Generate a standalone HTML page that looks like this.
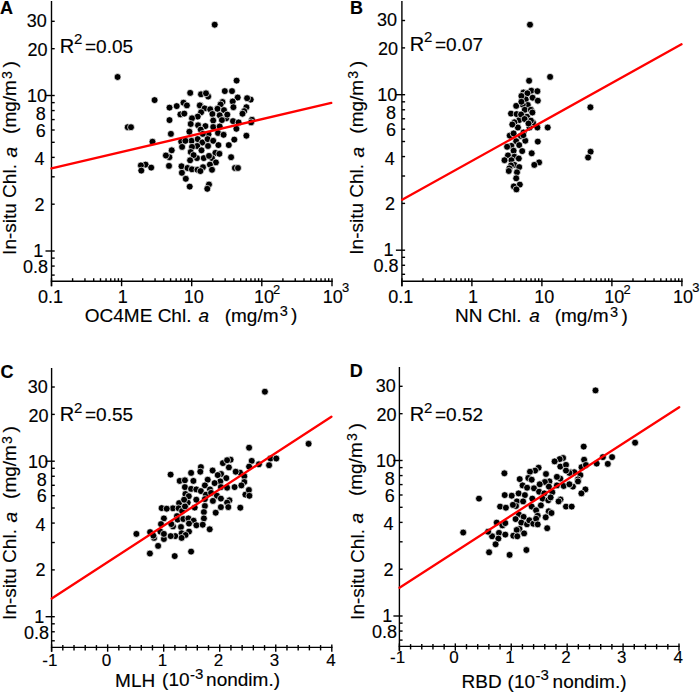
<!DOCTYPE html>
<html><head><meta charset="utf-8"><style>html,body{margin:0;padding:0;background:#fff}svg{display:block}</style></head><body>
<svg width="700" height="694" viewBox="0 0 700 694">
<rect width="700" height="694" fill="#fff"/>
<g fill="#000" stroke="#000" stroke-width="0.15" font-family="'Liberation Sans', sans-serif">
<text x="-0.10" y="13.60" font-size="18" font-weight="bold">A</text>
<text x="26.80" y="26.80" font-size="18">30</text>
<text x="27.60" y="55.90" font-size="18">20</text>
<text x="27.00" y="102.30" font-size="18">10</text>
<text x="35.80" y="119.80" font-size="18">8</text>
<text x="35.80" y="136.60" font-size="18">6</text>
<text x="34.40" y="165.40" font-size="18">4</text>
<text x="34.60" y="210.50" font-size="18">2</text>
<text x="33.20" y="256.90" font-size="18">1</text>
<text x="23.10" y="272.80" font-size="18">0.8</text>
<text x="349.90" y="13.50" font-size="18" font-weight="bold">B</text>
<text x="377.10" y="25.90" font-size="18">30</text>
<text x="377.90" y="55.00" font-size="18">20</text>
<text x="377.30" y="101.40" font-size="18">10</text>
<text x="386.10" y="118.90" font-size="18">8</text>
<text x="386.10" y="135.70" font-size="18">6</text>
<text x="384.70" y="164.50" font-size="18">4</text>
<text x="384.90" y="209.60" font-size="18">2</text>
<text x="383.50" y="256.00" font-size="18">1</text>
<text x="373.40" y="271.90" font-size="18">0.8</text>
<text x="0.40" y="377.50" font-size="18" font-weight="bold">C</text>
<text x="27.80" y="392.60" font-size="18">30</text>
<text x="28.60" y="421.70" font-size="18">20</text>
<text x="28.00" y="468.10" font-size="18">10</text>
<text x="36.80" y="485.60" font-size="18">8</text>
<text x="36.80" y="502.40" font-size="18">6</text>
<text x="35.40" y="531.20" font-size="18">4</text>
<text x="35.60" y="576.30" font-size="18">2</text>
<text x="34.20" y="622.70" font-size="18">1</text>
<text x="24.10" y="638.60" font-size="18">0.8</text>
<text x="349.70" y="377.10" font-size="18" font-weight="bold">D</text>
<text x="375.80" y="391.80" font-size="18">30</text>
<text x="376.60" y="420.90" font-size="18">20</text>
<text x="376.00" y="467.30" font-size="18">10</text>
<text x="384.80" y="484.80" font-size="18">8</text>
<text x="384.80" y="501.60" font-size="18">6</text>
<text x="383.40" y="530.40" font-size="18">4</text>
<text x="383.60" y="575.50" font-size="18">2</text>
<text x="382.20" y="621.90" font-size="18">1</text>
<text x="372.10" y="637.80" font-size="18">0.8</text>
<text x="59.70" y="52.90" font-size="20">R</text>
<text x="73.90" y="44.00" font-size="15">2</text>
<text x="85.00" y="52.90" font-size="19">=0.05</text>
<text x="409.70" y="51.10" font-size="20">R</text>
<text x="423.90" y="42.20" font-size="15">2</text>
<text x="435.00" y="51.10" font-size="19">=0.07</text>
<text x="59.70" y="421.40" font-size="20">R</text>
<text x="73.90" y="412.50" font-size="15">2</text>
<text x="85.00" y="421.40" font-size="19">=0.55</text>
<text x="409.70" y="421.40" font-size="20">R</text>
<text x="423.90" y="412.50" font-size="15">2</text>
<text x="435.00" y="421.40" font-size="19">=0.52</text>
<text x="0" y="0" font-size="19" transform="translate(16.40,254.90) rotate(-90)">In-situ Chl.</text>
<text x="0" y="0" font-size="19" font-style="italic" transform="translate(17.30,157.60) rotate(-90)">a</text>
<text x="0" y="0" font-size="19" transform="translate(16.40,133.90) rotate(-90)">(mg/m</text>
<text x="0" y="0" font-size="14" transform="translate(11.90,78.90) rotate(-90)">3</text>
<text x="0" y="0" font-size="19" transform="translate(16.40,67.40) rotate(-90)">)</text>
<text x="0" y="0" font-size="19" transform="translate(362.70,254.70) rotate(-90)">In-situ Chl.</text>
<text x="0" y="0" font-size="19" font-style="italic" transform="translate(363.60,157.40) rotate(-90)">a</text>
<text x="0" y="0" font-size="19" transform="translate(362.70,133.70) rotate(-90)">(mg/m</text>
<text x="0" y="0" font-size="14" transform="translate(358.20,78.70) rotate(-90)">3</text>
<text x="0" y="0" font-size="19" transform="translate(362.70,67.20) rotate(-90)">)</text>
<text x="0" y="0" font-size="19" transform="translate(16.40,619.90) rotate(-90)">In-situ Chl.</text>
<text x="0" y="0" font-size="19" font-style="italic" transform="translate(17.30,522.60) rotate(-90)">a</text>
<text x="0" y="0" font-size="19" transform="translate(16.40,498.90) rotate(-90)">(mg/m</text>
<text x="0" y="0" font-size="14" transform="translate(11.90,443.90) rotate(-90)">3</text>
<text x="0" y="0" font-size="19" transform="translate(16.40,432.40) rotate(-90)">)</text>
<text x="0" y="0" font-size="19" transform="translate(363.60,619.90) rotate(-90)">In-situ Chl.</text>
<text x="0" y="0" font-size="19" font-style="italic" transform="translate(363.30,523.40) rotate(-90)">a</text>
<text x="0" y="0" font-size="19" transform="translate(361.80,496.10) rotate(-90)">(mg/m</text>
<text x="0" y="0" font-size="14" transform="translate(357.30,441.10) rotate(-90)">3</text>
<text x="0" y="0" font-size="19" transform="translate(361.80,429.60) rotate(-90)">)</text>
<text x="37.90" y="302.90" font-size="18">0.1</text>
<text x="117.70" y="302.90" font-size="18">1</text>
<text x="183.80" y="302.90" font-size="18">10</text>
<text x="253.90" y="302.90" font-size="18">10</text>
<text x="273.00" y="294.00" font-size="13">2</text>
<text x="322.70" y="302.90" font-size="18">10</text>
<text x="341.90" y="291.70" font-size="13">3</text>
<text x="388.30" y="302.90" font-size="18">0.1</text>
<text x="468.10" y="302.90" font-size="18">1</text>
<text x="534.20" y="302.90" font-size="18">10</text>
<text x="604.30" y="302.90" font-size="18">10</text>
<text x="623.40" y="294.00" font-size="13">2</text>
<text x="673.10" y="302.90" font-size="18">10</text>
<text x="692.30" y="291.70" font-size="13">3</text>
<text x="84.80" y="321.60" font-size="19">OC4ME Chl.</text>
<text x="198.60" y="321.60" font-size="19" font-style="italic">a</text>
<text x="224.70" y="321.70" font-size="19">(mg/m</text>
<text x="279.80" y="315.90" font-size="14.5">3</text>
<text x="291.10" y="320.50" font-size="19">)</text>
<text x="455.10" y="322.10" font-size="19">NN Chl.</text>
<text x="529.30" y="322.10" font-size="19" font-style="italic">a</text>
<text x="554.70" y="322.30" font-size="19">(mg/m</text>
<text x="610.00" y="317.00" font-size="14.5">3</text>
<text x="621.50" y="321.60" font-size="19">)</text>
<text x="42.30" y="666.40" font-size="17">-1</text>
<text x="101.64" y="666.40" font-size="17">0</text>
<text x="157.68" y="666.40" font-size="17">1</text>
<text x="213.72" y="666.40" font-size="17">2</text>
<text x="269.76" y="666.40" font-size="17">3</text>
<text x="326.30" y="666.40" font-size="17">4</text>
<text x="390.10" y="662.90" font-size="17">-1</text>
<text x="449.32" y="662.90" font-size="17">0</text>
<text x="505.24" y="662.90" font-size="17">1</text>
<text x="561.16" y="662.90" font-size="17">2</text>
<text x="617.08" y="662.90" font-size="17">3</text>
<text x="673.50" y="662.90" font-size="17">4</text>
<text x="115.10" y="687.10" font-size="19">MLH</text>
<text x="162.10" y="686.40" font-size="19">(10</text>
<text x="190.00" y="680.30" font-size="15">-</text>
<text x="195.10" y="679.10" font-size="15">3</text>
<text x="206.10" y="686.40" font-size="19">nondim.)</text>
<text x="461.60" y="687.90" font-size="19">RBD</text>
<text x="507.60" y="687.50" font-size="19">(10</text>
<text x="535.50" y="681.40" font-size="15">-</text>
<text x="540.60" y="680.20" font-size="15">3</text>
<text x="552.60" y="687.50" font-size="19">nondim.)</text>
</g>
<g>
<line x1="51.50" y1="1.00" x2="51.50" y2="286.20" stroke="#000" stroke-width="1.4"/>
<line x1="50.80" y1="281.20" x2="332.70" y2="281.20" stroke="#000" stroke-width="1.4"/>
<line x1="51.50" y1="275.09" x2="54.70" y2="275.09" stroke="#000" stroke-width="1.4"/>
<line x1="51.50" y1="266.07" x2="54.70" y2="266.07" stroke="#000" stroke-width="1.4"/>
<line x1="51.50" y1="258.12" x2="54.70" y2="258.12" stroke="#000" stroke-width="1.4"/>
<line x1="45.50" y1="251.00" x2="54.70" y2="251.00" stroke="#000" stroke-width="1.4"/>
<line x1="51.50" y1="204.19" x2="54.70" y2="204.19" stroke="#000" stroke-width="1.4"/>
<line x1="51.50" y1="176.81" x2="54.70" y2="176.81" stroke="#000" stroke-width="1.4"/>
<line x1="51.50" y1="157.38" x2="54.70" y2="157.38" stroke="#000" stroke-width="1.4"/>
<line x1="51.50" y1="142.31" x2="54.70" y2="142.31" stroke="#000" stroke-width="1.4"/>
<line x1="51.50" y1="130.00" x2="54.70" y2="130.00" stroke="#000" stroke-width="1.4"/>
<line x1="51.50" y1="119.59" x2="54.70" y2="119.59" stroke="#000" stroke-width="1.4"/>
<line x1="51.50" y1="110.57" x2="54.70" y2="110.57" stroke="#000" stroke-width="1.4"/>
<line x1="51.50" y1="102.62" x2="54.70" y2="102.62" stroke="#000" stroke-width="1.4"/>
<line x1="45.50" y1="95.50" x2="54.70" y2="95.50" stroke="#000" stroke-width="1.4"/>
<line x1="51.50" y1="48.69" x2="54.70" y2="48.69" stroke="#000" stroke-width="1.4"/>
<line x1="51.50" y1="21.31" x2="54.70" y2="21.31" stroke="#000" stroke-width="1.4"/>
<line x1="51.50" y1="278.20" x2="51.50" y2="286.20" stroke="#000" stroke-width="1.4"/>
<line x1="72.60" y1="278.20" x2="72.60" y2="281.20" stroke="#000" stroke-width="1.4"/>
<line x1="84.95" y1="278.20" x2="84.95" y2="281.20" stroke="#000" stroke-width="1.4"/>
<line x1="93.70" y1="278.20" x2="93.70" y2="281.20" stroke="#000" stroke-width="1.4"/>
<line x1="100.50" y1="278.20" x2="100.50" y2="281.20" stroke="#000" stroke-width="1.4"/>
<line x1="106.05" y1="278.20" x2="106.05" y2="281.20" stroke="#000" stroke-width="1.4"/>
<line x1="110.74" y1="278.20" x2="110.74" y2="281.20" stroke="#000" stroke-width="1.4"/>
<line x1="114.81" y1="278.20" x2="114.81" y2="281.20" stroke="#000" stroke-width="1.4"/>
<line x1="118.39" y1="278.20" x2="118.39" y2="281.20" stroke="#000" stroke-width="1.4"/>
<line x1="121.60" y1="278.20" x2="121.60" y2="286.20" stroke="#000" stroke-width="1.4"/>
<line x1="142.70" y1="278.20" x2="142.70" y2="281.20" stroke="#000" stroke-width="1.4"/>
<line x1="155.05" y1="278.20" x2="155.05" y2="281.20" stroke="#000" stroke-width="1.4"/>
<line x1="163.80" y1="278.20" x2="163.80" y2="281.20" stroke="#000" stroke-width="1.4"/>
<line x1="170.60" y1="278.20" x2="170.60" y2="281.20" stroke="#000" stroke-width="1.4"/>
<line x1="176.15" y1="278.20" x2="176.15" y2="281.20" stroke="#000" stroke-width="1.4"/>
<line x1="180.84" y1="278.20" x2="180.84" y2="281.20" stroke="#000" stroke-width="1.4"/>
<line x1="184.91" y1="278.20" x2="184.91" y2="281.20" stroke="#000" stroke-width="1.4"/>
<line x1="188.49" y1="278.20" x2="188.49" y2="281.20" stroke="#000" stroke-width="1.4"/>
<line x1="191.70" y1="278.20" x2="191.70" y2="286.20" stroke="#000" stroke-width="1.4"/>
<line x1="212.80" y1="278.20" x2="212.80" y2="281.20" stroke="#000" stroke-width="1.4"/>
<line x1="225.15" y1="278.20" x2="225.15" y2="281.20" stroke="#000" stroke-width="1.4"/>
<line x1="233.90" y1="278.20" x2="233.90" y2="281.20" stroke="#000" stroke-width="1.4"/>
<line x1="240.70" y1="278.20" x2="240.70" y2="281.20" stroke="#000" stroke-width="1.4"/>
<line x1="246.25" y1="278.20" x2="246.25" y2="281.20" stroke="#000" stroke-width="1.4"/>
<line x1="250.94" y1="278.20" x2="250.94" y2="281.20" stroke="#000" stroke-width="1.4"/>
<line x1="255.01" y1="278.20" x2="255.01" y2="281.20" stroke="#000" stroke-width="1.4"/>
<line x1="258.59" y1="278.20" x2="258.59" y2="281.20" stroke="#000" stroke-width="1.4"/>
<line x1="261.80" y1="278.20" x2="261.80" y2="286.20" stroke="#000" stroke-width="1.4"/>
<line x1="282.90" y1="278.20" x2="282.90" y2="281.20" stroke="#000" stroke-width="1.4"/>
<line x1="295.25" y1="278.20" x2="295.25" y2="281.20" stroke="#000" stroke-width="1.4"/>
<line x1="304.00" y1="278.20" x2="304.00" y2="281.20" stroke="#000" stroke-width="1.4"/>
<line x1="310.80" y1="278.20" x2="310.80" y2="281.20" stroke="#000" stroke-width="1.4"/>
<line x1="316.35" y1="278.20" x2="316.35" y2="281.20" stroke="#000" stroke-width="1.4"/>
<line x1="321.04" y1="278.20" x2="321.04" y2="281.20" stroke="#000" stroke-width="1.4"/>
<line x1="325.11" y1="278.20" x2="325.11" y2="281.20" stroke="#000" stroke-width="1.4"/>
<line x1="328.69" y1="278.20" x2="328.69" y2="281.20" stroke="#000" stroke-width="1.4"/>
<line x1="332.00" y1="278.20" x2="332.00" y2="286.20" stroke="#000" stroke-width="1.4"/>
<line x1="401.90" y1="1.00" x2="401.90" y2="286.20" stroke="#000" stroke-width="1.4"/>
<line x1="401.20" y1="281.20" x2="682.60" y2="281.20" stroke="#000" stroke-width="1.4"/>
<line x1="401.90" y1="274.29" x2="405.10" y2="274.29" stroke="#000" stroke-width="1.4"/>
<line x1="401.90" y1="265.27" x2="405.10" y2="265.27" stroke="#000" stroke-width="1.4"/>
<line x1="401.90" y1="257.32" x2="405.10" y2="257.32" stroke="#000" stroke-width="1.4"/>
<line x1="395.90" y1="250.20" x2="405.10" y2="250.20" stroke="#000" stroke-width="1.4"/>
<line x1="401.90" y1="203.39" x2="405.10" y2="203.39" stroke="#000" stroke-width="1.4"/>
<line x1="401.90" y1="176.01" x2="405.10" y2="176.01" stroke="#000" stroke-width="1.4"/>
<line x1="401.90" y1="156.58" x2="405.10" y2="156.58" stroke="#000" stroke-width="1.4"/>
<line x1="401.90" y1="141.51" x2="405.10" y2="141.51" stroke="#000" stroke-width="1.4"/>
<line x1="401.90" y1="129.20" x2="405.10" y2="129.20" stroke="#000" stroke-width="1.4"/>
<line x1="401.90" y1="118.79" x2="405.10" y2="118.79" stroke="#000" stroke-width="1.4"/>
<line x1="401.90" y1="109.77" x2="405.10" y2="109.77" stroke="#000" stroke-width="1.4"/>
<line x1="401.90" y1="101.82" x2="405.10" y2="101.82" stroke="#000" stroke-width="1.4"/>
<line x1="395.90" y1="94.70" x2="405.10" y2="94.70" stroke="#000" stroke-width="1.4"/>
<line x1="401.90" y1="47.89" x2="405.10" y2="47.89" stroke="#000" stroke-width="1.4"/>
<line x1="401.90" y1="20.51" x2="405.10" y2="20.51" stroke="#000" stroke-width="1.4"/>
<line x1="401.90" y1="278.20" x2="401.90" y2="286.20" stroke="#000" stroke-width="1.4"/>
<line x1="422.97" y1="278.20" x2="422.97" y2="281.20" stroke="#000" stroke-width="1.4"/>
<line x1="435.30" y1="278.20" x2="435.30" y2="281.20" stroke="#000" stroke-width="1.4"/>
<line x1="444.04" y1="278.20" x2="444.04" y2="281.20" stroke="#000" stroke-width="1.4"/>
<line x1="450.83" y1="278.20" x2="450.83" y2="281.20" stroke="#000" stroke-width="1.4"/>
<line x1="456.37" y1="278.20" x2="456.37" y2="281.20" stroke="#000" stroke-width="1.4"/>
<line x1="461.06" y1="278.20" x2="461.06" y2="281.20" stroke="#000" stroke-width="1.4"/>
<line x1="465.12" y1="278.20" x2="465.12" y2="281.20" stroke="#000" stroke-width="1.4"/>
<line x1="468.70" y1="278.20" x2="468.70" y2="281.20" stroke="#000" stroke-width="1.4"/>
<line x1="471.90" y1="278.20" x2="471.90" y2="286.20" stroke="#000" stroke-width="1.4"/>
<line x1="492.97" y1="278.20" x2="492.97" y2="281.20" stroke="#000" stroke-width="1.4"/>
<line x1="505.30" y1="278.20" x2="505.30" y2="281.20" stroke="#000" stroke-width="1.4"/>
<line x1="514.04" y1="278.20" x2="514.04" y2="281.20" stroke="#000" stroke-width="1.4"/>
<line x1="520.83" y1="278.20" x2="520.83" y2="281.20" stroke="#000" stroke-width="1.4"/>
<line x1="526.37" y1="278.20" x2="526.37" y2="281.20" stroke="#000" stroke-width="1.4"/>
<line x1="531.06" y1="278.20" x2="531.06" y2="281.20" stroke="#000" stroke-width="1.4"/>
<line x1="535.12" y1="278.20" x2="535.12" y2="281.20" stroke="#000" stroke-width="1.4"/>
<line x1="538.70" y1="278.20" x2="538.70" y2="281.20" stroke="#000" stroke-width="1.4"/>
<line x1="541.90" y1="278.20" x2="541.90" y2="286.20" stroke="#000" stroke-width="1.4"/>
<line x1="562.97" y1="278.20" x2="562.97" y2="281.20" stroke="#000" stroke-width="1.4"/>
<line x1="575.30" y1="278.20" x2="575.30" y2="281.20" stroke="#000" stroke-width="1.4"/>
<line x1="584.04" y1="278.20" x2="584.04" y2="281.20" stroke="#000" stroke-width="1.4"/>
<line x1="590.83" y1="278.20" x2="590.83" y2="281.20" stroke="#000" stroke-width="1.4"/>
<line x1="596.37" y1="278.20" x2="596.37" y2="281.20" stroke="#000" stroke-width="1.4"/>
<line x1="601.06" y1="278.20" x2="601.06" y2="281.20" stroke="#000" stroke-width="1.4"/>
<line x1="605.12" y1="278.20" x2="605.12" y2="281.20" stroke="#000" stroke-width="1.4"/>
<line x1="608.70" y1="278.20" x2="608.70" y2="281.20" stroke="#000" stroke-width="1.4"/>
<line x1="611.90" y1="278.20" x2="611.90" y2="286.20" stroke="#000" stroke-width="1.4"/>
<line x1="632.97" y1="278.20" x2="632.97" y2="281.20" stroke="#000" stroke-width="1.4"/>
<line x1="645.30" y1="278.20" x2="645.30" y2="281.20" stroke="#000" stroke-width="1.4"/>
<line x1="654.04" y1="278.20" x2="654.04" y2="281.20" stroke="#000" stroke-width="1.4"/>
<line x1="660.83" y1="278.20" x2="660.83" y2="281.20" stroke="#000" stroke-width="1.4"/>
<line x1="666.37" y1="278.20" x2="666.37" y2="281.20" stroke="#000" stroke-width="1.4"/>
<line x1="671.06" y1="278.20" x2="671.06" y2="281.20" stroke="#000" stroke-width="1.4"/>
<line x1="675.12" y1="278.20" x2="675.12" y2="281.20" stroke="#000" stroke-width="1.4"/>
<line x1="678.70" y1="278.20" x2="678.70" y2="281.20" stroke="#000" stroke-width="1.4"/>
<line x1="681.90" y1="278.20" x2="681.90" y2="286.20" stroke="#000" stroke-width="1.4"/>
<line x1="51.60" y1="368.00" x2="51.60" y2="651.70" stroke="#000" stroke-width="1.4"/>
<line x1="50.90" y1="647.40" x2="332.50" y2="647.40" stroke="#000" stroke-width="1.4"/>
<line x1="51.60" y1="640.79" x2="54.80" y2="640.79" stroke="#000" stroke-width="1.4"/>
<line x1="51.60" y1="631.77" x2="54.80" y2="631.77" stroke="#000" stroke-width="1.4"/>
<line x1="51.60" y1="623.82" x2="54.80" y2="623.82" stroke="#000" stroke-width="1.4"/>
<line x1="45.60" y1="616.70" x2="54.80" y2="616.70" stroke="#000" stroke-width="1.4"/>
<line x1="51.60" y1="569.89" x2="54.80" y2="569.89" stroke="#000" stroke-width="1.4"/>
<line x1="51.60" y1="542.51" x2="54.80" y2="542.51" stroke="#000" stroke-width="1.4"/>
<line x1="51.60" y1="523.08" x2="54.80" y2="523.08" stroke="#000" stroke-width="1.4"/>
<line x1="51.60" y1="508.01" x2="54.80" y2="508.01" stroke="#000" stroke-width="1.4"/>
<line x1="51.60" y1="495.70" x2="54.80" y2="495.70" stroke="#000" stroke-width="1.4"/>
<line x1="51.60" y1="485.29" x2="54.80" y2="485.29" stroke="#000" stroke-width="1.4"/>
<line x1="51.60" y1="476.27" x2="54.80" y2="476.27" stroke="#000" stroke-width="1.4"/>
<line x1="51.60" y1="468.32" x2="54.80" y2="468.32" stroke="#000" stroke-width="1.4"/>
<line x1="45.60" y1="461.20" x2="54.80" y2="461.20" stroke="#000" stroke-width="1.4"/>
<line x1="51.60" y1="414.39" x2="54.80" y2="414.39" stroke="#000" stroke-width="1.4"/>
<line x1="51.60" y1="387.01" x2="54.80" y2="387.01" stroke="#000" stroke-width="1.4"/>
<line x1="51.60" y1="644.40" x2="51.60" y2="651.70" stroke="#000" stroke-width="1.4"/>
<line x1="62.81" y1="645.10" x2="62.81" y2="650.40" stroke="#000" stroke-width="1.4"/>
<line x1="74.02" y1="645.10" x2="74.02" y2="650.40" stroke="#000" stroke-width="1.4"/>
<line x1="85.22" y1="645.10" x2="85.22" y2="650.40" stroke="#000" stroke-width="1.4"/>
<line x1="96.43" y1="645.10" x2="96.43" y2="650.40" stroke="#000" stroke-width="1.4"/>
<line x1="107.64" y1="644.40" x2="107.64" y2="651.70" stroke="#000" stroke-width="1.4"/>
<line x1="118.85" y1="645.10" x2="118.85" y2="650.40" stroke="#000" stroke-width="1.4"/>
<line x1="130.06" y1="645.10" x2="130.06" y2="650.40" stroke="#000" stroke-width="1.4"/>
<line x1="141.26" y1="645.10" x2="141.26" y2="650.40" stroke="#000" stroke-width="1.4"/>
<line x1="152.47" y1="645.10" x2="152.47" y2="650.40" stroke="#000" stroke-width="1.4"/>
<line x1="163.68" y1="644.40" x2="163.68" y2="651.70" stroke="#000" stroke-width="1.4"/>
<line x1="174.89" y1="645.10" x2="174.89" y2="650.40" stroke="#000" stroke-width="1.4"/>
<line x1="186.10" y1="645.10" x2="186.10" y2="650.40" stroke="#000" stroke-width="1.4"/>
<line x1="197.30" y1="645.10" x2="197.30" y2="650.40" stroke="#000" stroke-width="1.4"/>
<line x1="208.51" y1="645.10" x2="208.51" y2="650.40" stroke="#000" stroke-width="1.4"/>
<line x1="219.72" y1="644.40" x2="219.72" y2="651.70" stroke="#000" stroke-width="1.4"/>
<line x1="230.93" y1="645.10" x2="230.93" y2="650.40" stroke="#000" stroke-width="1.4"/>
<line x1="242.14" y1="645.10" x2="242.14" y2="650.40" stroke="#000" stroke-width="1.4"/>
<line x1="253.34" y1="645.10" x2="253.34" y2="650.40" stroke="#000" stroke-width="1.4"/>
<line x1="264.55" y1="645.10" x2="264.55" y2="650.40" stroke="#000" stroke-width="1.4"/>
<line x1="275.76" y1="644.40" x2="275.76" y2="651.70" stroke="#000" stroke-width="1.4"/>
<line x1="286.97" y1="645.10" x2="286.97" y2="650.40" stroke="#000" stroke-width="1.4"/>
<line x1="298.18" y1="645.10" x2="298.18" y2="650.40" stroke="#000" stroke-width="1.4"/>
<line x1="309.38" y1="645.10" x2="309.38" y2="650.40" stroke="#000" stroke-width="1.4"/>
<line x1="320.59" y1="645.10" x2="320.59" y2="650.40" stroke="#000" stroke-width="1.4"/>
<line x1="331.80" y1="644.40" x2="331.80" y2="651.70" stroke="#000" stroke-width="1.4"/>
<line x1="399.40" y1="366.90" x2="399.40" y2="650.70" stroke="#000" stroke-width="1.4"/>
<line x1="398.70" y1="646.40" x2="679.70" y2="646.40" stroke="#000" stroke-width="1.4"/>
<line x1="399.40" y1="640.09" x2="402.60" y2="640.09" stroke="#000" stroke-width="1.4"/>
<line x1="399.40" y1="631.07" x2="402.60" y2="631.07" stroke="#000" stroke-width="1.4"/>
<line x1="399.40" y1="623.12" x2="402.60" y2="623.12" stroke="#000" stroke-width="1.4"/>
<line x1="393.40" y1="616.00" x2="402.60" y2="616.00" stroke="#000" stroke-width="1.4"/>
<line x1="399.40" y1="569.19" x2="402.60" y2="569.19" stroke="#000" stroke-width="1.4"/>
<line x1="399.40" y1="541.81" x2="402.60" y2="541.81" stroke="#000" stroke-width="1.4"/>
<line x1="399.40" y1="522.38" x2="402.60" y2="522.38" stroke="#000" stroke-width="1.4"/>
<line x1="399.40" y1="507.31" x2="402.60" y2="507.31" stroke="#000" stroke-width="1.4"/>
<line x1="399.40" y1="495.00" x2="402.60" y2="495.00" stroke="#000" stroke-width="1.4"/>
<line x1="399.40" y1="484.59" x2="402.60" y2="484.59" stroke="#000" stroke-width="1.4"/>
<line x1="399.40" y1="475.57" x2="402.60" y2="475.57" stroke="#000" stroke-width="1.4"/>
<line x1="399.40" y1="467.62" x2="402.60" y2="467.62" stroke="#000" stroke-width="1.4"/>
<line x1="393.40" y1="460.50" x2="402.60" y2="460.50" stroke="#000" stroke-width="1.4"/>
<line x1="399.40" y1="413.69" x2="402.60" y2="413.69" stroke="#000" stroke-width="1.4"/>
<line x1="399.40" y1="386.31" x2="402.60" y2="386.31" stroke="#000" stroke-width="1.4"/>
<line x1="399.40" y1="643.40" x2="399.40" y2="650.70" stroke="#000" stroke-width="1.4"/>
<line x1="410.58" y1="644.10" x2="410.58" y2="649.40" stroke="#000" stroke-width="1.4"/>
<line x1="421.77" y1="644.10" x2="421.77" y2="649.40" stroke="#000" stroke-width="1.4"/>
<line x1="432.95" y1="644.10" x2="432.95" y2="649.40" stroke="#000" stroke-width="1.4"/>
<line x1="444.14" y1="644.10" x2="444.14" y2="649.40" stroke="#000" stroke-width="1.4"/>
<line x1="455.32" y1="643.40" x2="455.32" y2="650.70" stroke="#000" stroke-width="1.4"/>
<line x1="466.50" y1="644.10" x2="466.50" y2="649.40" stroke="#000" stroke-width="1.4"/>
<line x1="477.69" y1="644.10" x2="477.69" y2="649.40" stroke="#000" stroke-width="1.4"/>
<line x1="488.87" y1="644.10" x2="488.87" y2="649.40" stroke="#000" stroke-width="1.4"/>
<line x1="500.06" y1="644.10" x2="500.06" y2="649.40" stroke="#000" stroke-width="1.4"/>
<line x1="511.24" y1="643.40" x2="511.24" y2="650.70" stroke="#000" stroke-width="1.4"/>
<line x1="522.42" y1="644.10" x2="522.42" y2="649.40" stroke="#000" stroke-width="1.4"/>
<line x1="533.61" y1="644.10" x2="533.61" y2="649.40" stroke="#000" stroke-width="1.4"/>
<line x1="544.79" y1="644.10" x2="544.79" y2="649.40" stroke="#000" stroke-width="1.4"/>
<line x1="555.98" y1="644.10" x2="555.98" y2="649.40" stroke="#000" stroke-width="1.4"/>
<line x1="567.16" y1="643.40" x2="567.16" y2="650.70" stroke="#000" stroke-width="1.4"/>
<line x1="578.34" y1="644.10" x2="578.34" y2="649.40" stroke="#000" stroke-width="1.4"/>
<line x1="589.53" y1="644.10" x2="589.53" y2="649.40" stroke="#000" stroke-width="1.4"/>
<line x1="600.71" y1="644.10" x2="600.71" y2="649.40" stroke="#000" stroke-width="1.4"/>
<line x1="611.90" y1="644.10" x2="611.90" y2="649.40" stroke="#000" stroke-width="1.4"/>
<line x1="623.08" y1="643.40" x2="623.08" y2="650.70" stroke="#000" stroke-width="1.4"/>
<line x1="634.26" y1="644.10" x2="634.26" y2="649.40" stroke="#000" stroke-width="1.4"/>
<line x1="645.45" y1="644.10" x2="645.45" y2="649.40" stroke="#000" stroke-width="1.4"/>
<line x1="656.63" y1="644.10" x2="656.63" y2="649.40" stroke="#000" stroke-width="1.4"/>
<line x1="667.82" y1="644.10" x2="667.82" y2="649.40" stroke="#000" stroke-width="1.4"/>
<line x1="679.00" y1="643.40" x2="679.00" y2="650.70" stroke="#000" stroke-width="1.4"/>
</g>
<g fill="#000" stroke="#fff" stroke-width="0.7">
<circle cx="117.6" cy="77.0" r="3.45"/>
<circle cx="154.6" cy="100.1" r="3.45"/>
<circle cx="169.5" cy="107.6" r="3.45"/>
<circle cx="176.7" cy="106.1" r="3.45"/>
<circle cx="183.5" cy="102.7" r="3.45"/>
<circle cx="186.9" cy="105.4" r="3.45"/>
<circle cx="169.5" cy="120.1" r="3.45"/>
<circle cx="127.7" cy="127.2" r="3.45"/>
<circle cx="131.0" cy="127.2" r="3.45"/>
<circle cx="180.4" cy="114.4" r="3.45"/>
<circle cx="184.3" cy="113.6" r="3.45"/>
<circle cx="214.7" cy="24.7" r="3.45"/>
<circle cx="236.6" cy="80.6" r="3.45"/>
<circle cx="190.2" cy="92.9" r="3.45"/>
<circle cx="201.0" cy="94.3" r="3.45"/>
<circle cx="208.2" cy="96.5" r="3.45"/>
<circle cx="206.0" cy="93.3" r="3.45"/>
<circle cx="224.8" cy="91.1" r="3.45"/>
<circle cx="232.0" cy="91.1" r="3.45"/>
<circle cx="237.7" cy="97.5" r="3.45"/>
<circle cx="250.7" cy="99.6" r="3.45"/>
<circle cx="247.1" cy="98.2" r="3.45"/>
<circle cx="232.7" cy="101.5" r="3.45"/>
<circle cx="200.3" cy="105.1" r="3.45"/>
<circle cx="222.5" cy="102.0" r="3.45"/>
<circle cx="220.4" cy="104.8" r="3.45"/>
<circle cx="199.8" cy="105.4" r="3.45"/>
<circle cx="204.6" cy="108.4" r="3.45"/>
<circle cx="210.2" cy="109.3" r="3.45"/>
<circle cx="220.6" cy="104.5" r="3.45"/>
<circle cx="217.5" cy="108.8" r="3.45"/>
<circle cx="224.0" cy="110.1" r="3.45"/>
<circle cx="201.1" cy="112.3" r="3.45"/>
<circle cx="197.7" cy="116.6" r="3.45"/>
<circle cx="192.0" cy="118.3" r="3.45"/>
<circle cx="212.4" cy="114.0" r="3.45"/>
<circle cx="213.2" cy="120.5" r="3.45"/>
<circle cx="219.7" cy="115.3" r="3.45"/>
<circle cx="226.2" cy="118.3" r="3.45"/>
<circle cx="221.9" cy="120.1" r="3.45"/>
<circle cx="190.7" cy="124.0" r="3.45"/>
<circle cx="198.1" cy="125.3" r="3.45"/>
<circle cx="205.4" cy="126.1" r="3.45"/>
<circle cx="213.2" cy="127.0" r="3.45"/>
<circle cx="219.7" cy="126.5" r="3.45"/>
<circle cx="189.4" cy="131.7" r="3.45"/>
<circle cx="200.7" cy="129.6" r="3.45"/>
<circle cx="208.5" cy="134.3" r="3.45"/>
<circle cx="202.8" cy="133.9" r="3.45"/>
<circle cx="218.0" cy="133.0" r="3.45"/>
<circle cx="223.6" cy="134.8" r="3.45"/>
<circle cx="170.9" cy="133.9" r="3.45"/>
<circle cx="183.8" cy="140.8" r="3.45"/>
<circle cx="181.2" cy="141.7" r="3.45"/>
<circle cx="191.6" cy="140.8" r="3.45"/>
<circle cx="197.7" cy="139.1" r="3.45"/>
<circle cx="202.4" cy="142.5" r="3.45"/>
<circle cx="207.6" cy="139.1" r="3.45"/>
<circle cx="213.2" cy="140.8" r="3.45"/>
<circle cx="218.4" cy="145.1" r="3.45"/>
<circle cx="208.0" cy="146.0" r="3.45"/>
<circle cx="197.2" cy="146.0" r="3.45"/>
<circle cx="192.0" cy="146.9" r="3.45"/>
<circle cx="182.1" cy="146.9" r="3.45"/>
<circle cx="228.8" cy="145.1" r="3.45"/>
<circle cx="171.7" cy="150.3" r="3.45"/>
<circle cx="190.7" cy="152.0" r="3.45"/>
<circle cx="201.5" cy="150.3" r="3.45"/>
<circle cx="215.4" cy="152.9" r="3.45"/>
<circle cx="233.4" cy="107.2" r="3.45"/>
<circle cx="246.4" cy="107.2" r="3.45"/>
<circle cx="244.2" cy="111.1" r="3.45"/>
<circle cx="242.5" cy="113.7" r="3.45"/>
<circle cx="227.3" cy="114.6" r="3.45"/>
<circle cx="233.0" cy="121.1" r="3.45"/>
<circle cx="238.6" cy="122.4" r="3.45"/>
<circle cx="236.4" cy="128.8" r="3.45"/>
<circle cx="252.0" cy="119.8" r="3.45"/>
<circle cx="251.1" cy="122.4" r="3.45"/>
<circle cx="246.4" cy="135.7" r="3.45"/>
<circle cx="234.3" cy="139.6" r="3.45"/>
<circle cx="152.5" cy="141.7" r="3.45"/>
<circle cx="185.4" cy="140.8" r="3.45"/>
<circle cx="169.4" cy="157.2" r="3.45"/>
<circle cx="165.9" cy="155.5" r="3.45"/>
<circle cx="197.0" cy="158.1" r="3.45"/>
<circle cx="193.6" cy="155.1" r="3.45"/>
<circle cx="190.1" cy="160.3" r="3.45"/>
<circle cx="145.6" cy="164.6" r="3.45"/>
<circle cx="151.2" cy="167.6" r="3.45"/>
<circle cx="140.9" cy="165.4" r="3.45"/>
<circle cx="141.3" cy="170.6" r="3.45"/>
<circle cx="169.0" cy="165.9" r="3.45"/>
<circle cx="181.5" cy="166.3" r="3.45"/>
<circle cx="187.5" cy="168.0" r="3.45"/>
<circle cx="191.9" cy="169.3" r="3.45"/>
<circle cx="197.5" cy="169.8" r="3.45"/>
<circle cx="181.9" cy="172.8" r="3.45"/>
<circle cx="185.8" cy="178.8" r="3.45"/>
<circle cx="189.7" cy="186.6" r="3.45"/>
<circle cx="219.4" cy="153.8" r="3.45"/>
<circle cx="203.8" cy="158.1" r="3.45"/>
<circle cx="212.0" cy="158.1" r="3.45"/>
<circle cx="209.0" cy="155.9" r="3.45"/>
<circle cx="231.1" cy="157.2" r="3.45"/>
<circle cx="215.9" cy="162.4" r="3.45"/>
<circle cx="209.9" cy="164.6" r="3.45"/>
<circle cx="203.0" cy="167.2" r="3.45"/>
<circle cx="212.0" cy="169.8" r="3.45"/>
<circle cx="200.4" cy="171.1" r="3.45"/>
<circle cx="234.9" cy="168.0" r="3.45"/>
<circle cx="238.0" cy="168.0" r="3.45"/>
<circle cx="209.0" cy="184.5" r="3.45"/>
<circle cx="207.3" cy="188.8" r="3.45"/>
<circle cx="530.0" cy="24.7" r="3.45"/>
<circle cx="529.1" cy="80.8" r="3.45"/>
<circle cx="550.1" cy="76.9" r="3.45"/>
<circle cx="531.3" cy="90.7" r="3.45"/>
<circle cx="537.4" cy="91.2" r="3.45"/>
<circle cx="523.5" cy="92.5" r="3.45"/>
<circle cx="522.7" cy="95.9" r="3.45"/>
<circle cx="527.4" cy="93.3" r="3.45"/>
<circle cx="525.7" cy="99.4" r="3.45"/>
<circle cx="532.6" cy="97.7" r="3.45"/>
<circle cx="537.8" cy="100.7" r="3.45"/>
<circle cx="527.8" cy="105.0" r="3.45"/>
<circle cx="522.7" cy="104.6" r="3.45"/>
<circle cx="516.2" cy="105.9" r="3.45"/>
<circle cx="524.8" cy="109.8" r="3.45"/>
<circle cx="530.9" cy="109.8" r="3.45"/>
<circle cx="511.0" cy="113.6" r="3.45"/>
<circle cx="516.6" cy="114.1" r="3.45"/>
<circle cx="527.0" cy="116.7" r="3.45"/>
<circle cx="519.2" cy="120.1" r="3.45"/>
<circle cx="533.0" cy="122.7" r="3.45"/>
<circle cx="530.9" cy="120.6" r="3.45"/>
<circle cx="514.4" cy="122.3" r="3.45"/>
<circle cx="517.9" cy="127.5" r="3.45"/>
<circle cx="529.6" cy="127.5" r="3.45"/>
<circle cx="537.4" cy="127.5" r="3.45"/>
<circle cx="547.7" cy="127.5" r="3.45"/>
<circle cx="509.7" cy="135.6" r="3.45"/>
<circle cx="513.6" cy="133.4" r="3.45"/>
<circle cx="520.9" cy="136.0" r="3.45"/>
<circle cx="523.5" cy="132.5" r="3.45"/>
<circle cx="525.3" cy="140.7" r="3.45"/>
<circle cx="516.2" cy="141.2" r="3.45"/>
<circle cx="537.8" cy="141.6" r="3.45"/>
<circle cx="519.2" cy="145.1" r="3.45"/>
<circle cx="511.4" cy="145.9" r="3.45"/>
<circle cx="507.1" cy="146.8" r="3.45"/>
<circle cx="513.6" cy="150.7" r="3.45"/>
<circle cx="522.2" cy="151.1" r="3.45"/>
<circle cx="531.7" cy="153.3" r="3.45"/>
<circle cx="508.0" cy="155.4" r="3.45"/>
<circle cx="514.4" cy="156.7" r="3.45"/>
<circle cx="518.8" cy="158.5" r="3.45"/>
<circle cx="511.4" cy="160.2" r="3.45"/>
<circle cx="504.5" cy="160.2" r="3.45"/>
<circle cx="539.1" cy="162.4" r="3.45"/>
<circle cx="534.3" cy="164.9" r="3.45"/>
<circle cx="514.4" cy="164.9" r="3.45"/>
<circle cx="511.0" cy="165.4" r="3.45"/>
<circle cx="509.3" cy="168.4" r="3.45"/>
<circle cx="508.8" cy="171.0" r="3.45"/>
<circle cx="519.2" cy="167.1" r="3.45"/>
<circle cx="517.0" cy="172.3" r="3.45"/>
<circle cx="516.2" cy="178.3" r="3.45"/>
<circle cx="519.8" cy="184.6" r="3.45"/>
<circle cx="513.8" cy="186.4" r="3.45"/>
<circle cx="516.4" cy="189.4" r="3.45"/>
<circle cx="590.4" cy="107.3" r="3.45"/>
<circle cx="590.6" cy="151.7" r="3.45"/>
<circle cx="588.1" cy="157.5" r="3.45"/>
<circle cx="521.4" cy="96.0" r="3.45"/>
<circle cx="521.4" cy="101.8" r="3.45"/>
<circle cx="532.4" cy="112.5" r="3.45"/>
<circle cx="521.1" cy="114.5" r="3.45"/>
<circle cx="524.6" cy="119.0" r="3.45"/>
<circle cx="512.3" cy="124.5" r="3.45"/>
<circle cx="528.5" cy="123.5" r="3.45"/>
<circle cx="523.3" cy="135.2" r="3.45"/>
<circle cx="264.9" cy="391.7" r="3.45"/>
<circle cx="308.6" cy="443.8" r="3.45"/>
<circle cx="249.1" cy="447.7" r="3.45"/>
<circle cx="230.6" cy="459.7" r="3.45"/>
<circle cx="222.9" cy="463.1" r="3.45"/>
<circle cx="227.1" cy="460.2" r="3.45"/>
<circle cx="251.7" cy="460.9" r="3.45"/>
<circle cx="270.5" cy="458.5" r="3.45"/>
<circle cx="276.3" cy="458.5" r="3.45"/>
<circle cx="258.9" cy="464.3" r="3.45"/>
<circle cx="269.1" cy="465.2" r="3.45"/>
<circle cx="249.1" cy="466.6" r="3.45"/>
<circle cx="228.9" cy="467.4" r="3.45"/>
<circle cx="212.6" cy="470.5" r="3.45"/>
<circle cx="240.0" cy="472.6" r="3.45"/>
<circle cx="235.7" cy="471.7" r="3.45"/>
<circle cx="221.1" cy="474.0" r="3.45"/>
<circle cx="217.7" cy="475.1" r="3.45"/>
<circle cx="226.3" cy="478.1" r="3.45"/>
<circle cx="244.3" cy="476.3" r="3.45"/>
<circle cx="170.6" cy="474.6" r="3.45"/>
<circle cx="191.1" cy="472.9" r="3.45"/>
<circle cx="200.9" cy="467.1" r="3.45"/>
<circle cx="200.3" cy="471.7" r="3.45"/>
<circle cx="179.7" cy="480.9" r="3.45"/>
<circle cx="184.9" cy="480.3" r="3.45"/>
<circle cx="193.4" cy="480.9" r="3.45"/>
<circle cx="207.7" cy="479.7" r="3.45"/>
<circle cx="220.3" cy="481.4" r="3.45"/>
<circle cx="214.6" cy="483.1" r="3.45"/>
<circle cx="184.9" cy="487.1" r="3.45"/>
<circle cx="191.1" cy="488.9" r="3.45"/>
<circle cx="196.3" cy="489.4" r="3.45"/>
<circle cx="204.9" cy="485.4" r="3.45"/>
<circle cx="210.0" cy="489.4" r="3.45"/>
<circle cx="220.9" cy="487.1" r="3.45"/>
<circle cx="227.1" cy="487.7" r="3.45"/>
<circle cx="234.6" cy="487.1" r="3.45"/>
<circle cx="244.3" cy="482.0" r="3.45"/>
<circle cx="241.4" cy="485.4" r="3.45"/>
<circle cx="185.4" cy="494.0" r="3.45"/>
<circle cx="200.9" cy="491.1" r="3.45"/>
<circle cx="206.0" cy="494.6" r="3.45"/>
<circle cx="211.1" cy="492.9" r="3.45"/>
<circle cx="216.9" cy="495.7" r="3.45"/>
<circle cx="245.4" cy="494.6" r="3.45"/>
<circle cx="248.9" cy="490.0" r="3.45"/>
<circle cx="187.7" cy="502.6" r="3.45"/>
<circle cx="196.3" cy="499.7" r="3.45"/>
<circle cx="204.9" cy="499.1" r="3.45"/>
<circle cx="212.9" cy="500.9" r="3.45"/>
<circle cx="220.9" cy="498.6" r="3.45"/>
<circle cx="229.4" cy="500.3" r="3.45"/>
<circle cx="227.1" cy="502.6" r="3.45"/>
<circle cx="179.1" cy="503.1" r="3.45"/>
<circle cx="184.9" cy="507.1" r="3.45"/>
<circle cx="172.9" cy="508.3" r="3.45"/>
<circle cx="178.6" cy="508.3" r="3.45"/>
<circle cx="204.9" cy="506.0" r="3.45"/>
<circle cx="220.9" cy="507.1" r="3.45"/>
<circle cx="228.3" cy="507.1" r="3.45"/>
<circle cx="240.3" cy="507.7" r="3.45"/>
<circle cx="249.4" cy="495.8" r="3.45"/>
<circle cx="136.4" cy="533.9" r="3.45"/>
<circle cx="150.1" cy="532.1" r="3.45"/>
<circle cx="154.1" cy="537.9" r="3.45"/>
<circle cx="153.3" cy="535.6" r="3.45"/>
<circle cx="163.9" cy="539.0" r="3.45"/>
<circle cx="158.1" cy="545.9" r="3.45"/>
<circle cx="149.9" cy="553.5" r="3.45"/>
<circle cx="174.7" cy="556.1" r="3.45"/>
<circle cx="191.1" cy="551.6" r="3.45"/>
<circle cx="161.6" cy="508.1" r="3.45"/>
<circle cx="166.7" cy="508.7" r="3.45"/>
<circle cx="182.1" cy="511.0" r="3.45"/>
<circle cx="185.0" cy="506.4" r="3.45"/>
<circle cx="194.7" cy="507.6" r="3.45"/>
<circle cx="203.9" cy="512.1" r="3.45"/>
<circle cx="203.9" cy="518.4" r="3.45"/>
<circle cx="177.0" cy="516.1" r="3.45"/>
<circle cx="163.9" cy="518.4" r="3.45"/>
<circle cx="177.6" cy="519.6" r="3.45"/>
<circle cx="183.3" cy="519.0" r="3.45"/>
<circle cx="188.4" cy="518.4" r="3.45"/>
<circle cx="193.6" cy="520.7" r="3.45"/>
<circle cx="161.0" cy="524.1" r="3.45"/>
<circle cx="173.0" cy="526.4" r="3.45"/>
<circle cx="171.3" cy="524.1" r="3.45"/>
<circle cx="181.0" cy="527.0" r="3.45"/>
<circle cx="189.0" cy="523.6" r="3.45"/>
<circle cx="196.4" cy="525.3" r="3.45"/>
<circle cx="202.7" cy="524.7" r="3.45"/>
<circle cx="160.4" cy="531.6" r="3.45"/>
<circle cx="163.9" cy="533.9" r="3.45"/>
<circle cx="175.3" cy="536.1" r="3.45"/>
<circle cx="170.7" cy="536.1" r="3.45"/>
<circle cx="189.0" cy="531.6" r="3.45"/>
<circle cx="181.6" cy="533.3" r="3.45"/>
<circle cx="185.6" cy="535.0" r="3.45"/>
<circle cx="181.6" cy="537.9" r="3.45"/>
<circle cx="215.7" cy="512.7" r="3.45"/>
<circle cx="209.7" cy="529.3" r="3.45"/>
<circle cx="188.8" cy="496.2" r="3.45"/>
<circle cx="184.1" cy="499.7" r="3.45"/>
<circle cx="595.5" cy="390.4" r="3.45"/>
<circle cx="635.1" cy="442.7" r="3.45"/>
<circle cx="583.7" cy="446.6" r="3.45"/>
<circle cx="584.1" cy="459.7" r="3.45"/>
<circle cx="602.9" cy="457.1" r="3.45"/>
<circle cx="612.1" cy="457.1" r="3.45"/>
<circle cx="596.7" cy="463.6" r="3.45"/>
<circle cx="607.8" cy="463.9" r="3.45"/>
<circle cx="581.5" cy="467.2" r="3.45"/>
<circle cx="585.9" cy="465.0" r="3.45"/>
<circle cx="570.7" cy="472.2" r="3.45"/>
<circle cx="574.3" cy="472.2" r="3.45"/>
<circle cx="580.4" cy="475.1" r="3.45"/>
<circle cx="577.9" cy="479.4" r="3.45"/>
<circle cx="578.0" cy="481.4" r="3.45"/>
<circle cx="563.1" cy="458.0" r="3.45"/>
<circle cx="559.7" cy="459.1" r="3.45"/>
<circle cx="554.6" cy="461.4" r="3.45"/>
<circle cx="560.3" cy="466.6" r="3.45"/>
<circle cx="566.0" cy="464.9" r="3.45"/>
<circle cx="569.4" cy="472.9" r="3.45"/>
<circle cx="566.0" cy="470.6" r="3.45"/>
<circle cx="546.0" cy="474.0" r="3.45"/>
<circle cx="538.6" cy="467.7" r="3.45"/>
<circle cx="535.1" cy="470.6" r="3.45"/>
<circle cx="530.0" cy="471.7" r="3.45"/>
<circle cx="560.3" cy="478.6" r="3.45"/>
<circle cx="556.9" cy="476.9" r="3.45"/>
<circle cx="528.3" cy="478.0" r="3.45"/>
<circle cx="531.7" cy="479.7" r="3.45"/>
<circle cx="519.7" cy="479.1" r="3.45"/>
<circle cx="549.4" cy="481.4" r="3.45"/>
<circle cx="544.9" cy="482.0" r="3.45"/>
<circle cx="539.7" cy="484.3" r="3.45"/>
<circle cx="522.6" cy="485.4" r="3.45"/>
<circle cx="527.1" cy="487.7" r="3.45"/>
<circle cx="534.0" cy="488.3" r="3.45"/>
<circle cx="548.9" cy="486.6" r="3.45"/>
<circle cx="556.9" cy="485.4" r="3.45"/>
<circle cx="563.7" cy="486.0" r="3.45"/>
<circle cx="572.9" cy="486.6" r="3.45"/>
<circle cx="569.4" cy="484.3" r="3.45"/>
<circle cx="539.1" cy="491.7" r="3.45"/>
<circle cx="544.3" cy="493.4" r="3.45"/>
<circle cx="552.3" cy="492.3" r="3.45"/>
<circle cx="518.6" cy="493.4" r="3.45"/>
<circle cx="524.9" cy="495.1" r="3.45"/>
<circle cx="511.7" cy="495.7" r="3.45"/>
<circle cx="532.3" cy="498.6" r="3.45"/>
<circle cx="542.6" cy="498.6" r="3.45"/>
<circle cx="548.3" cy="500.3" r="3.45"/>
<circle cx="550.6" cy="497.4" r="3.45"/>
<circle cx="560.5" cy="499.5" r="3.45"/>
<circle cx="558.6" cy="501.4" r="3.45"/>
<circle cx="585.4" cy="489.4" r="3.45"/>
<circle cx="581.4" cy="493.4" r="3.45"/>
<circle cx="516.9" cy="501.4" r="3.45"/>
<circle cx="523.1" cy="501.4" r="3.45"/>
<circle cx="540.9" cy="505.4" r="3.45"/>
<circle cx="516.0" cy="506.0" r="3.45"/>
<circle cx="512.9" cy="504.9" r="3.45"/>
<circle cx="566.0" cy="506.6" r="3.45"/>
<circle cx="571.7" cy="506.6" r="3.45"/>
<circle cx="531.7" cy="506.6" r="3.45"/>
<circle cx="479.0" cy="498.6" r="3.45"/>
<circle cx="504.7" cy="495.1" r="3.45"/>
<circle cx="500.1" cy="506.6" r="3.45"/>
<circle cx="505.9" cy="507.7" r="3.45"/>
<circle cx="519.0" cy="514.6" r="3.45"/>
<circle cx="515.6" cy="519.1" r="3.45"/>
<circle cx="523.6" cy="516.9" r="3.45"/>
<circle cx="521.3" cy="522.6" r="3.45"/>
<circle cx="527.0" cy="524.3" r="3.45"/>
<circle cx="529.3" cy="520.3" r="3.45"/>
<circle cx="533.3" cy="523.7" r="3.45"/>
<circle cx="496.7" cy="522.6" r="3.45"/>
<circle cx="502.4" cy="525.4" r="3.45"/>
<circle cx="505.3" cy="523.1" r="3.45"/>
<circle cx="492.1" cy="536.3" r="3.45"/>
<circle cx="488.1" cy="531.7" r="3.45"/>
<circle cx="499.0" cy="532.9" r="3.45"/>
<circle cx="505.3" cy="534.6" r="3.45"/>
<circle cx="519.5" cy="529.0" r="3.45"/>
<circle cx="516.7" cy="530.0" r="3.45"/>
<circle cx="524.1" cy="533.4" r="3.45"/>
<circle cx="513.3" cy="535.7" r="3.45"/>
<circle cx="517.3" cy="536.3" r="3.45"/>
<circle cx="498.4" cy="538.6" r="3.45"/>
<circle cx="495.6" cy="544.3" r="3.45"/>
<circle cx="463.2" cy="532.5" r="3.45"/>
<circle cx="489.1" cy="552.3" r="3.45"/>
<circle cx="509.6" cy="554.9" r="3.45"/>
<circle cx="526.4" cy="550.0" r="3.45"/>
<circle cx="536.1" cy="510.3" r="3.45"/>
<circle cx="548.7" cy="511.3" r="3.45"/>
<circle cx="551.5" cy="513.0" r="3.45"/>
<circle cx="545.7" cy="517.3" r="3.45"/>
<circle cx="537.7" cy="515.8" r="3.45"/>
<circle cx="536.1" cy="518.8" r="3.45"/>
<circle cx="537.7" cy="524.4" r="3.45"/>
<circle cx="547.2" cy="528.2" r="3.45"/>
<circle cx="504.4" cy="473.3" r="3.45"/>
</g>
<line x1="51.5" y1="168.4" x2="331.3" y2="102.9" stroke="#f00" stroke-width="2.3" stroke-linecap="round"/>
<line x1="402.1" y1="199.8" x2="681.5" y2="44.3" stroke="#f00" stroke-width="2.3" stroke-linecap="round"/>
<line x1="51.7" y1="598.5" x2="331.4" y2="416.7" stroke="#f00" stroke-width="2.3" stroke-linecap="round"/>
<line x1="399.5" y1="587.7" x2="679.2" y2="407.2" stroke="#f00" stroke-width="2.3" stroke-linecap="round"/>
</svg>
</body></html>
